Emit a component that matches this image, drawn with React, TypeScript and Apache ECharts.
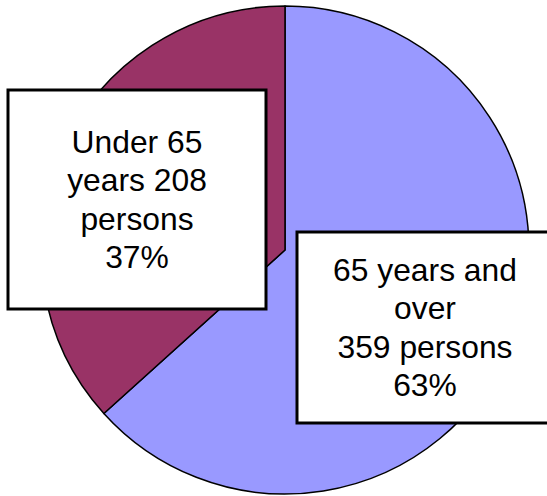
import React, { useEffect, useRef } from "react";
import * as echarts from "echarts";

// Age groups of the persons counted, and how many fall into each
const categories = ["65 years and over", "Under 65 years"];
const nameLines = ["65 years and\nover", "Under 65\nyears"];
const values = [359, 208];
const colors = ["#9999FF", "#993366"];

// How each label joins the name, the count and the word "persons"
const beforeValue = ["\n", " "];
const beforeUnit = [" ", "\n"];

// Label box centres and paddings (px)
const labelCenters = [
  [425, 327.5],
  [137, 199.5],
];
const labelPaddings = [
  [17, 0, 17, 0],
  [31, 0, 31, 0],
];
const labelWidths = [253, 255];

const total = values.reduce((a, b) => a + b, 0);

export default function App() {
  const ref = useRef<HTMLDivElement>(null);

  useEffect(() => {
    if (!ref.current) return;
    const chart = echarts.init(ref.current, undefined, { renderer: "svg" });

    const data = categories.map((name, i) => ({
      name,
      value: values[i],
      itemStyle: { color: colors[i] },
      label: {
        padding: labelPaddings[i],
        width: labelWidths[i],
      },
    }));

    chart.setOption({
      animation: false,
      backgroundColor: "#ffffff",
      series: [
        {
          type: "pie",
          center: [285, 250],
          radius: 244,
          startAngle: 90,
          clockwise: true,
          silent: true,
          itemStyle: { borderColor: "#000000", borderWidth: 1.5 },
          labelLine: { show: false },
          label: {
            show: true,
            position: "inside",
            overflow: "none",
            fontFamily: "'Liberation Sans', Arial, sans-serif",
            fontSize: 31.8,
            lineHeight: 38.5,
            color: "#000000",
            align: "center",
            backgroundColor: "#ffffff",
            borderColor: "#000000",
            borderWidth: 3,
            formatter: (p: any) => {
              const i = p.dataIndex;
              const pct = Math.round((values[i] / total) * 100);
              return `${nameLines[i]}${beforeValue[i]}${values[i]}${beforeUnit[i]}persons\n${pct}%`;
            },
          },
          labelLayout: (params: any) => {
            const c = labelCenters[params.dataIndex];
            return { x: c[0], y: c[1], align: "center", verticalAlign: "middle" };
          },
          emphasis: { disabled: true },
          data,
        },
      ],
    });

    return () => chart.dispose();
  }, []);

  return (
    <div
      ref={ref}
      style={{ position: "fixed", left: 0, top: 0, width: 547, height: 496 }}
    />
  );
}
